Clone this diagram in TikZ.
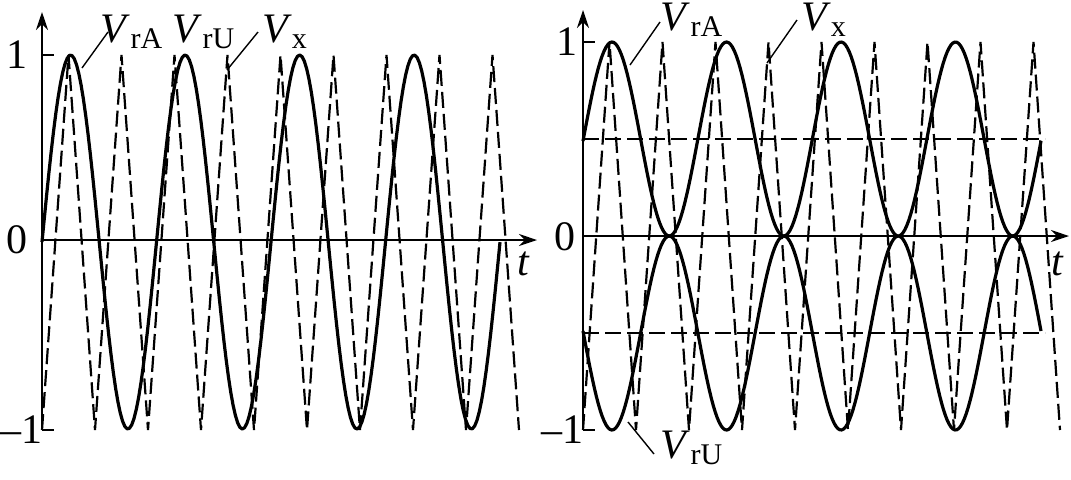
\documentclass[tikz,border=0pt]{standalone}
\usepackage{fontspec}
\setmainfont{Liberation Serif}
\usetikzlibrary{arrows.meta}
\newcommand{\sig}[2]{\textit{#1}\textsubscript{\fontsize{15}{16}\selectfont #2}}

\begin{document}
\begin{tikzpicture}[
    x = 0.5pt, y = -0.5pt,
    axis/.style = {line width=0.8pt, -{Stealth[length=9pt,width=6pt]}},
    wave/.style = {line width=1.6pt, line join=round},
    vx/.style = {line width=1.1pt, dash pattern=on 8pt off 3pt},
    lead/.style = {line width=0.7pt},
    lbl/.style = {font=\fontsize{21}{24}\selectfont, inner sep=1pt}
    ]
    \useasboundingbox (0,0) rectangle (1071,479);

    % left picture
    \draw[axis] (42,430) -- (42,12);
    \draw[axis] (42,240) -- (537,240);
    \draw[line width=0.8pt] (42,55) -- (54,55) (42,430) -- (54,430);
    \node[lbl] (l1) at (17,55) {1};
    \node[lbl] (l0) at (17,240) {0};
    \node[lbl] (lm1) at (22,430) {–1};
    \node[lbl] (lt) at (524,264) {\textit{t}};
    \draw[wave] plot[domain=42:500, samples=200] (\x, {242-187*sin(3.144*(\x-42))});
    \draw[vx] (42,430) \foreach \k in {0,...,8}{ -- ({68.5+53*\k},55) -- ({95+53*\k},430)};
    \node[lbl] (lA) at (132,32) {\sig{V}{rA}};
    \node[lbl] (lU) at (204,32) {\sig{V}{rU}};
    \node[lbl] (lX) at (285,32) {\sig{V}{x}};
    \coordinate (lApt) at (82,68);
    \coordinate (lXpt) at (227,70);
    \draw[lead] (108,32) -- (lApt);
    \draw[lead] (258,32) -- (lXpt);

    % right picture
    \draw[axis] (583,430) -- (583,10);
    \draw[axis] (583,236) -- (1069,236);
    \draw[line width=0.8pt] (583,42) -- (595,42) (583,430) -- (595,430);
    \draw[vx] (583,139) -- (1045,139);
    \draw[vx] (583,333) -- (1045,333);
    \node[lbl] (r1) at (567,42) {1};
    \node[lbl] (r0) at (565,237) {0};
    \node[lbl] (rm1) at (562,430) {–1};
    \node[lbl] (rt) at (1058,264) {\textit{t}};
    \draw[wave] plot[domain=583:1041, samples=240] (\x, {236-97*(1+cos(3.1441*(\x-612)))});
    \draw[wave] plot[domain=583:1041, samples=240] (\x, {236+97*(1+cos(3.1441*(\x-612)))});
    \draw[vx] (583,430) \foreach \k in {0,...,8}{ -- ({609.5+53*\k},42) -- ({636+53*\k},430)};
    \node[lbl] (rA) at (692,20) {\sig{V}{rA}};
    \node[lbl] (rX) at (824,20) {\sig{V}{x}};
    \node[lbl] (rU) at (692,448) {\sig{V}{rU}};
    \coordinate (rApt) at (630,65);
    \coordinate (rXpt) at (767,63);
    \coordinate (rUpt) at (628,422);
    \draw[lead] (660,22) -- (rApt);
    \draw[lead] (797,20) -- (rXpt);
    \draw[lead] (654,454) -- (rUpt);
\end{tikzpicture}
\end{document}
